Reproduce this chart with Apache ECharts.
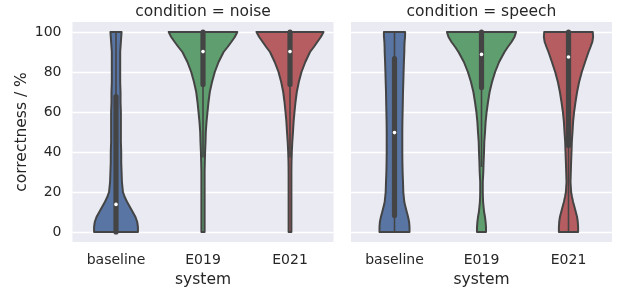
<!DOCTYPE html>
<html>
<head>
<meta charset="utf-8">
<script src="https://cdn.jsdelivr.net/npm/echarts@6/dist/echarts.min.js"></script>
<style>
  html, body { margin: 0; padding: 0; background: #fff; }
  #main { width: 622px; height: 289px; }
</style>
</head>
<body>
<div id="main"></div>
<script>
// categories / facets
var categories = ['baseline', 'E019', 'E021'];
var conditions = ['noise', 'speech'];
var yTicks = [0, 20, 40, 60, 80, 100];

var levels = [0, 2.5, 5, 7.5, 10, 12.5, 15, 17.5, 20, 25, 30, 35, 40, 45, 50, 55, 60, 65, 70, 75, 80, 85, 90, 92.5, 95, 97.5, 100];

// relative density (1 = widest violin) per level, one row per system
var noiseDensity = [
  [0.63, 0.63, 0.61, 0.56, 0.48, 0.40, 0.32, 0.25, 0.20, 0.17, 0.16, 0.15, 0.15, 0.14, 0.14, 0.14, 0.14, 0.13, 0.13, 0.12, 0.12, 0.12, 0.12, 0.13, 0.14, 0.15, 0.16],
  [0.046, 0.046, 0.046, 0.046, 0.046, 0.046, 0.046, 0.046, 0.046, 0.046, 0.046, 0.052, 0.06, 0.072, 0.08, 0.101, 0.129, 0.158, 0.195, 0.259, 0.339, 0.448, 0.592, 0.707, 0.813, 0.914, 0.986],
  [0.04, 0.04, 0.04, 0.04, 0.04, 0.04, 0.04, 0.04, 0.04, 0.04, 0.04, 0.043, 0.052, 0.066, 0.086, 0.103, 0.129, 0.158, 0.195, 0.253, 0.33, 0.44, 0.575, 0.684, 0.784, 0.885, 0.963]
];
var speechDensity = [
  [0.431, 0.431, 0.42, 0.391, 0.353, 0.316, 0.282, 0.267, 0.253, 0.244, 0.233, 0.227, 0.224, 0.224, 0.224, 0.227, 0.233, 0.239, 0.244, 0.253, 0.261, 0.27, 0.282, 0.284, 0.29, 0.302, 0.305],
  [0.129, 0.129, 0.118, 0.101, 0.075, 0.06, 0.046, 0.04, 0.037, 0.037, 0.052, 0.06, 0.072, 0.08, 0.101, 0.118, 0.147, 0.187, 0.233, 0.302, 0.391, 0.506, 0.661, 0.756, 0.862, 0.948, 0.994],
  [0.276, 0.276, 0.267, 0.247, 0.21, 0.172, 0.132, 0.101, 0.075, 0.057, 0.066, 0.075, 0.086, 0.095, 0.115, 0.132, 0.161, 0.201, 0.247, 0.305, 0.382, 0.477, 0.575, 0.632, 0.684, 0.707, 0.698]
];

// inner box: [whisker low, q1, median, q3, whisker high]
var noiseStats = [
  [0, 0, 13.8, 67.7, 100],
  [37.2, 73.8, 90.2, 100, 100],
  [37.2, 73.8, 90.2, 100, 100]
];
var speechStats = [
  [0, 8.3, 49.7, 86.7, 100],
  [32.5, 72.2, 88.8, 100, 100],
  [0, 43.3, 87.5, 100, 100]
];

var colors = ['#5975a4', '#5f9e6e', '#b55d60'];
var edge = '#444444';
var font = 'DejaVu Sans';

var myChart = echarts.init(document.getElementById('main'));

function violinRenderer(density, stats) {
  return function (params, api) {
    var i = api.value(0);
    var band = api.size([1, 0])[0];
    var half = band * 0.4;
    var d = density[i];
    var pts = [];
    var k, c;
    for (k = 0; k < levels.length; k++) {
      c = api.coord([i, levels[k]]);
      pts.push([c[0] - d[k] * half, c[1]]);
    }
    for (k = levels.length - 1; k >= 0; k--) {
      c = api.coord([i, levels[k]]);
      pts.push([c[0] + d[k] * half, c[1]]);
    }
    var s = stats[i];
    var lo = api.coord([i, s[0]]);
    var q1 = api.coord([i, s[1]]);
    var med = api.coord([i, s[2]]);
    var q3 = api.coord([i, s[3]]);
    var hi = api.coord([i, s[4]]);
    return {
      type: 'group',
      children: [
        {
          type: 'polygon',
          shape: { points: pts },
          style: { fill: colors[i], stroke: edge, lineWidth: 2, lineJoin: 'round' }
        },
        {
          type: 'line',
          shape: { x1: lo[0], y1: lo[1], x2: hi[0], y2: hi[1] },
          style: { stroke: edge, lineWidth: 1.6 }
        },
        {
          type: 'line',
          shape: { x1: q1[0], y1: q1[1], x2: q3[0], y2: q3[1] },
          style: { stroke: edge, lineWidth: 5.2, lineCap: 'round' }
        },
        {
          type: 'circle',
          shape: { cx: med[0], cy: med[1], r: 1.8 },
          style: { fill: '#ffffff' }
        }
      ]
    };
  };
}

var gridLeft = [72.5, 351];
var gridWidth = 261;

function xAxisFor(idx) {
  return {
    type: 'category',
    gridIndex: idx,
    data: categories,
    axisLine: { show: false },
    axisTick: { show: false },
    splitLine: { show: false },
    axisLabel: { color: '#262626', fontFamily: font, fontSize: 14, margin: 11 },
    name: 'system',
    nameLocation: 'middle',
    nameGap: 27,
    nameTextStyle: { color: '#262626', fontFamily: font, fontSize: 15.5 }
  };
}

function yAxisFor(idx) {
  return {
    type: 'value',
    gridIndex: idx,
    min: -5,
    max: 105,
    axisLine: { show: false },
    axisTick: { show: false, customValues: yTicks },
    splitLine: { show: true, lineStyle: { color: '#ffffff', width: 1.3 } },
    axisLabel: {
      show: idx === 0,
      customValues: yTicks,
      color: '#262626', fontFamily: font, fontSize: 14, margin: 11
    },
    name: idx === 0 ? 'correctness / %' : '',
    nameLocation: 'middle',
    nameRotate: 90,
    nameGap: 43,
    nameTextStyle: { color: '#262626', fontFamily: font, fontSize: 15.5 }
  };
}

var option = {
  animation: false,
  backgroundColor: '#ffffff',
  title: conditions.map(function (c, idx) {
    return {
      text: 'condition = ' + c,
      left: gridLeft[idx] + gridWidth / 2,
      textAlign: 'center',
      top: 4,
      padding: 0,
      textStyle: { color: '#262626', fontFamily: font, fontSize: 15.5, fontWeight: 'normal' }
    };
  }),
  grid: [0, 1].map(function (idx) {
    return {
      left: gridLeft[idx], width: gridWidth, top: 22, height: 220,
      outerBoundsMode: 'none',
      show: true, backgroundColor: '#eaeaf2', borderWidth: 0
    };
  }),
  xAxis: [xAxisFor(0), xAxisFor(1)],
  yAxis: [yAxisFor(0), yAxisFor(1)],
  series: [
    {
      type: 'custom',
      xAxisIndex: 0, yAxisIndex: 0,
      renderItem: violinRenderer(noiseDensity, noiseStats),
      data: categories.map(function (c, i) { return [i]; })
    },
    {
      type: 'custom',
      xAxisIndex: 1, yAxisIndex: 1,
      renderItem: violinRenderer(speechDensity, speechStats),
      data: categories.map(function (c, i) { return [i]; })
    }
  ]
};
myChart.setOption(option);
</script>
</body>
</html>
